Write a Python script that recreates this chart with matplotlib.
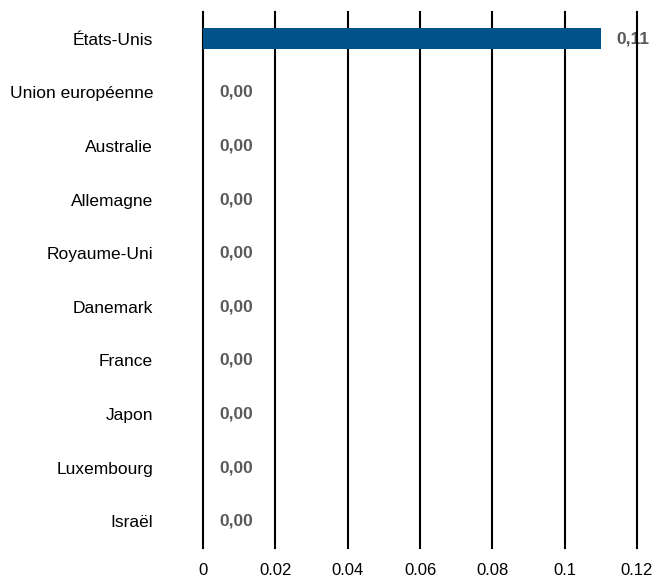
import matplotlib
matplotlib.use("Agg")
import matplotlib.pyplot as plt
from matplotlib.ticker import FixedLocator

categories = ["États-Unis", "Union européenne", "Australie", "Allemagne", "Royaume-Uni",
              "Danemark", "France", "Japon", "Luxembourg", "Israël"]
values = [0.11, 0.0, 0.0, 0.0, 0.0, 0.0, 0.0, 0.0, 0.0, 0.0]
value_labels = ["0,11", "0,00", "0,00", "0,00", "0,00", "0,00", "0,00", "0,00", "0,00", "0,00"]
xticks = [0, 0.02, 0.04, 0.06, 0.08, 0.1, 0.12]
xtick_labels = ["0", "0.02", "0.04", "0.06", "0.08", "0.1", "0.12"]

plt.rcParams['font.family'] = ['Liberation Sans', 'DejaVu Sans']

W, H = 655, 585
fig = plt.figure(figsize=(W / 100, H / 100), dpi=100)
ax = fig.add_axes([203 / W, 1 - 548 / H, (637 - 203) / W, (548 - 12) / H])

y = list(range(len(categories)))
ax.barh(y, values, height=0.39, color="#00538a", zorder=3)
ax.set_ylim(len(categories) - 0.5, -0.5)
ax.set_xlim(0, 0.12)

ax.xaxis.set_major_locator(FixedLocator(xticks))
ax.set_xticklabels(xtick_labels, fontsize=12)
ax.set_yticks(y)
ax.set_yticklabels(categories, fontsize=12.5)
ax.tick_params(axis='both', length=0)
ax.tick_params(axis='y', pad=36)
ax.tick_params(axis='x', pad=11)

for s in ax.spines.values():
    s.set_visible(False)

ax.grid(axis='x', color='black', linewidth=1.5, zorder=2)
ax.set_axisbelow(False)
for gl in ax.get_xgridlines():
    gl.set_zorder(2)
    gl.set_clip_on(False)

for yi, v, lab in zip(y, values, value_labels):
    ax.annotate(lab, xy=(v, yi), xytext=(16, 0), textcoords='offset pixels',
                ha='left', va='center', fontsize=12.5, fontweight='bold', color='#595959', zorder=1)

fig.savefig("out.png", dpi=100)
